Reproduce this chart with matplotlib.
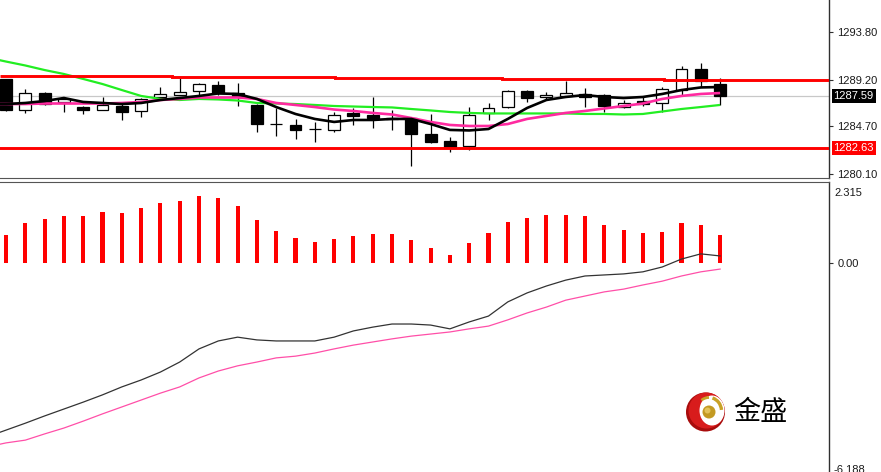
import numpy as np
import matplotlib
matplotlib.use("Agg")
import matplotlib.pyplot as plt
from matplotlib.patches import Rectangle, Circle, Ellipse, Arc
import matplotlib.transforms as mtransforms

# ---------------- data ----------------
bars = list(range(38))
opens = [1289.27, 1286.27, 1287.91, 1287.05, 1286.56, 1286.27, 1286.66, 1286.18, 1287.53, 1287.72,
         1288.11, 1288.69, 1287.91, 1286.76, 1284.95, 1284.83, 1284.46, 1284.35, 1285.99, 1285.79,
         1285.50, 1285.50, 1283.96, 1283.28, 1282.80, 1285.99, 1286.56, 1288.11, 1287.53, 1287.62,
         1287.82, 1287.72, 1286.56, 1287.14, 1286.95, 1288.21, 1290.23, 1288.78]
highs = [1289.30, 1288.30, 1288.01, 1287.43, 1286.66, 1287.53, 1287.08, 1287.43, 1288.49, 1289.36,
         1288.88, 1289.07, 1288.88, 1286.85, 1286.47, 1285.41, 1285.12, 1286.08, 1286.47, 1287.53,
         1286.27, 1285.55, 1285.89, 1283.67, 1286.56, 1286.95, 1288.21, 1288.21, 1288.01, 1289.07,
         1288.40, 1287.82, 1287.24, 1287.53, 1288.49, 1290.52, 1290.81, 1289.36]
lows = [1286.20, 1285.99, 1286.76, 1286.08, 1285.89, 1286.25, 1285.31, 1285.60, 1287.34, 1287.70,
        1287.72, 1287.72, 1286.66, 1284.15, 1283.77, 1283.48, 1283.19, 1284.15, 1284.83, 1284.54,
        1284.35, 1280.87, 1283.09, 1282.22, 1282.42, 1285.31, 1286.47, 1287.05, 1287.34, 1287.60,
        1286.56, 1286.08, 1286.47, 1286.66, 1286.08, 1287.62, 1288.49, 1286.76]
closes = [1286.27, 1287.91, 1286.85, 1287.34, 1286.27, 1286.76, 1286.08, 1287.34, 1287.82, 1288.01,
          1288.78, 1287.91, 1287.62, 1284.92, 1284.90, 1284.35, 1284.42, 1285.79, 1285.70, 1285.50,
          1285.43, 1283.96, 1283.19, 1282.70, 1285.79, 1286.47, 1288.11, 1287.43, 1287.72, 1287.91,
          1287.53, 1286.66, 1286.95, 1286.85, 1288.30, 1290.23, 1289.07, 1287.59]

# moving averages, first value belongs to the bar just left of the view (index -1)
ma_index = list(range(-1, 38))
ma_fast = [1286.85, 1286.85, 1286.95, 1287.14, 1287.43, 1287.05, 1286.95, 1286.85, 1286.95, 1287.24,
           1287.43, 1287.63, 1287.87, 1287.82, 1287.34, 1286.56, 1285.89, 1285.41, 1285.12, 1285.31,
           1285.31, 1285.41, 1285.41, 1284.92, 1284.35, 1284.30, 1284.44, 1285.41, 1286.47, 1287.24,
           1287.53, 1287.72, 1287.53, 1287.43, 1287.53, 1287.82, 1288.20, 1288.45, 1288.49]
ma_mid = [1286.85, 1286.85, 1286.85, 1286.90, 1286.90, 1286.90, 1286.90, 1286.95, 1287.05, 1287.24,
          1287.34, 1287.48, 1287.48, 1287.48, 1287.34, 1286.95, 1286.76, 1286.56, 1286.32, 1286.18,
          1285.99, 1285.84, 1285.50, 1285.12, 1284.83, 1284.73, 1284.73, 1284.92, 1285.41, 1285.70,
          1285.99, 1286.18, 1286.42, 1286.66, 1286.90, 1287.34, 1287.63, 1287.82, 1287.91]
ma_slow = [1291.35, 1290.95, 1290.57, 1290.13, 1289.75, 1289.27, 1288.78, 1288.20, 1287.63, 1287.34,
           1287.24, 1287.34, 1287.29, 1287.19, 1286.95, 1286.90, 1286.85, 1286.76, 1286.66, 1286.61,
           1286.56, 1286.52, 1286.37, 1286.23, 1286.08, 1285.99, 1285.94, 1285.94, 1285.94, 1285.94,
           1285.94, 1285.89, 1285.89, 1285.84, 1285.89, 1286.13, 1286.37, 1286.56, 1286.76]

price_ticks = [1280.10, 1284.70, 1289.20, 1293.80]
current_price = 1287.59
support_level = 1282.63
resistance_levels = [1289.60, 1289.47, 1289.36, 1289.27, 1289.20]
resistance_breaks = [8.6, 17.05, 25.7, 34.1]

hist = [0.80, 1.13, 1.25, 1.35, 1.35, 1.46, 1.42, 1.59, 1.71, 1.79,
        1.92, 1.88, 1.63, 1.22, 0.92, 0.71, 0.59, 0.68, 0.76, 0.82,
        0.82, 0.64, 0.42, 0.22, 0.56, 0.84, 1.17, 1.30, 1.38, 1.38,
        1.35, 1.09, 0.93, 0.84, 0.88, 1.13, 1.09, 0.80]
osc_main = [-5.05, -4.85, -4.65, -4.44, -4.24, -4.04, -3.83, -3.60, -3.40, -3.17,
            -2.88, -2.50, -2.27, -2.16, -2.24, -2.27, -2.27, -2.27, -2.16, -1.98,
            -1.87, -1.78, -1.78, -1.81, -1.92, -1.72, -1.55, -1.14, -0.88, -0.68,
            -0.51, -0.39, -0.36, -0.33, -0.27, -0.13, 0.10, 0.25, 0.19]
osc_signal = [-5.34, -5.22, -5.14, -4.96, -4.79, -4.59, -4.38, -4.18, -3.98, -3.78,
              -3.60, -3.34, -3.14, -2.99, -2.88, -2.76, -2.71, -2.62, -2.50, -2.39,
              -2.30, -2.21, -2.13, -2.07, -2.01, -1.92, -1.84, -1.66, -1.46, -1.29,
              -1.09, -0.97, -0.85, -0.77, -0.65, -0.54, -0.39, -0.27, -0.19]
osc_max = 2.315
osc_min = -6.188

# ---------------- layout ----------------
W, H = 881, 472
fig = plt.figure(figsize=(W / 100, H / 100), dpi=100)
fig.patch.set_facecolor("white")


def px_rect(x0, y0, x1, y1):
    return [x0 / W, 1 - y1 / H, (x1 - x0) / W, (y1 - y0) / H]


AXIS_X = 829
XL = (-6 / 19.3, (AXIS_X - 6) / 19.3)
LABEL_FONT = ["Liberation Sans", "DejaVu Sans"]
TXT = "#1a1a1a"

ax1 = fig.add_axes(px_rect(0, 0, AXIS_X, 178))
ax2 = fig.add_axes(px_rect(0, 181.5, AXIS_X, 472))

for ax in (ax1, ax2):
    ax.set_xlim(*XL)
    ax.set_xticks([])
    ax.set_facecolor("white")
    ax.spines["left"].set_visible(False)
    ax.spines["right"].set_color("#303030")
    ax.spines["right"].set_linewidth(1.0)
    ax.yaxis.tick_right()
    ax.tick_params(axis="y", direction="out", length=3, width=0.8, color="#303030",
                   labelsize=8, labelcolor=TXT, pad=3)

ax1.spines["top"].set_visible(False)
ax1.spines["bottom"].set_color("#555555")
ax2.spines["top"].set_color("#555555")
ax2.spines["bottom"].set_visible(False)

# ---------------- price panel ----------------
ax1.set_ylim(1279.71, 1296.89)
ax1.set_yticks(price_ticks)
ax1.set_yticklabels([f"{v:.2f}" for v in price_ticks], fontfamily=LABEL_FONT)

ax1.axhline(current_price, color="#c8c8c8", lw=0.9, zorder=1)

body_w = 0.62
for i, o, h, l, c in zip(bars, opens, highs, lows, closes):
    ax1.vlines(i, l, h, color="black", lw=0.9, zorder=2)
    bottom = min(o, c)
    height = max(abs(c - o), 0.02)
    fc = "white" if c >= o else "black"
    ax1.add_patch(Rectangle((i - body_w / 2, bottom), body_w, height,
                            facecolor=fc, edgecolor="black", lw=0.9, zorder=3))

ax1.plot(ma_index, ma_slow, color="#22ee22", lw=1.6, zorder=4, solid_capstyle="butt")
ax1.plot(ma_index, ma_mid, color="#ff2aa0", lw=1.9, zorder=5, solid_capstyle="butt")
ax1.plot(ma_index, ma_fast, color="black", lw=1.9, zorder=6, solid_capstyle="butt")

edges = [XL[0]] + resistance_breaks + [XL[1]]
ax1.stairs(resistance_levels, edges, baseline=None, color="#ff0000", lw=2.1, zorder=7)
ax1.axhline(support_level, color="#ff0000", lw=2.1, zorder=7)

blend1 = mtransforms.blended_transform_factory(ax1.transAxes, ax1.transData)
ax1.text(1.0055, current_price, f"{current_price:.2f}", transform=blend1, fontsize=8,
         fontfamily=LABEL_FONT, color="white", va="center", ha="left",
         bbox=dict(boxstyle="square,pad=0.18", fc="black", ec="none"), clip_on=False)
ax1.text(1.0055, support_level, f"{support_level:.2f}", transform=blend1, fontsize=8,
         fontfamily=LABEL_FONT, color="white", va="center", ha="left",
         bbox=dict(boxstyle="square,pad=0.18", fc="#ff0000", ec="none"), clip_on=False)

# ---------------- oscillator panel ----------------
ax2.set_ylim(-6.062, 2.344)
ax2.set_yticks([0.0])
ax2.set_yticklabels(["0.00"], fontfamily=LABEL_FONT)
ax2.bar(bars, hist, width=0.21, color="#ff0000", zorder=2)
ax2.plot(ma_index, osc_main, color="#333333", lw=0.9, zorder=3)
ax2.plot(ma_index, osc_signal, color="#ff4fa8", lw=0.9, zorder=3)

fig.text(834 / W, 1 - 193 / H, f"{osc_max:.3f}", fontsize=8, fontfamily=LABEL_FONT,
         color=TXT, va="center", ha="left")
fig.text(833 / W, 1 - 465 / H, f"{osc_min:.3f}", fontsize=8, fontfamily=LABEL_FONT,
         color=TXT, va="top", ha="left")

# ---------------- logo ----------------
axl = fig.add_axes([0, 0, 1, 1], zorder=10)
axl.set_xlim(0, W)
axl.set_ylim(H, 0)
axl.axis("off")
axl.patch.set_alpha(0)
axl.add_patch(Circle((705.5, 412), 19.5, fc="#a80c0c", ec="none"))
axl.add_patch(Circle((706.5, 410.5), 18.0, fc="#d81c1c", ec="none"))
axl.add_patch(Ellipse((712, 410.5), 25, 30, fc="white", ec="none"))
axl.add_patch(Arc((709, 411), 25, 27, theta1=-75, theta2=-5, color="#c9a227", lw=2.4))
axl.add_patch(Arc((709, 411), 25, 27, theta1=-125, theta2=-90, color="#c9a227", lw=2.0))
axl.add_patch(Circle((709, 412), 6.5, fc="#c39a22", ec="none"))
axl.add_patch(Circle((707.5, 410.5), 3, fc="#e3c35a", ec="none"))
axl.text(733, 412, "金盛", fontsize=19.5, family=["Noto Sans CJK SC", "DejaVu Sans"],
         color="black", va="center", ha="left")

fig.savefig("out.png", dpi=100, facecolor="white")
